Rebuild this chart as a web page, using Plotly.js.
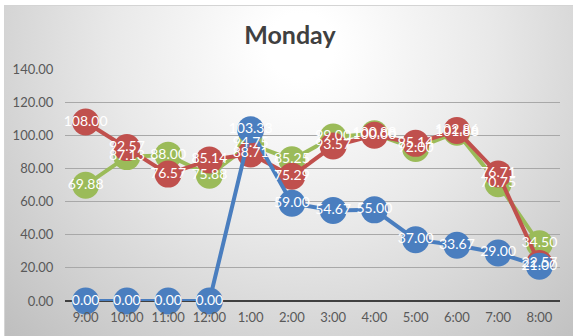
<!DOCTYPE html>
<html><head><meta charset="utf-8">
<script src="https://cdn.plot.ly/plotly-3.0.1.min.js"></script>
<style>
html,body{margin:0;padding:0;background:#fff;}
#bg{position:absolute;left:4px;top:5px;width:569px;height:331px;border-top:1px solid #d4d4d4;border-left:1px solid #d4d4d4;
background:radial-gradient(ellipse farthest-corner at 52% 12%, #ffffff 8%, #e9e9e9 45%, #bebebe 100%);}
#chart{position:absolute;left:0;top:0;width:573px;height:336px;}
</style></head>
<body>
<div id="bg"></div>
<div id="chart"></div>
<script>
const hours = ["9:00","10:00","11:00","12:00","1:00","2:00","3:00","4:00","5:00","6:00","7:00","8:00"];
const blueValues  = [0, 0, 0, 0, 103.33, 59.00, 54.67, 55.00, 37.00, 33.67, 29.00, 21.00];
const redValues   = [108.00, 92.57, 76.57, 85.14, 88.71, 75.29, 93.57, 100.00, 95.14, 102.86, 76.71, 22.57];
const greenValues = [69.88, 87.13, 88.00, 75.88, 94.75, 85.25, 99.00, 100.88, 92.00, 101.88, 70.75, 34.50];
const yTicks = [0, 20, 40, 60, 80, 100, 120, 140];

const series = [
  {name:"Green", y:greenValues, color:"#9bbb59"},
  {name:"Red", y:redValues, color:"#c0504d"},
  {name:"Blue", y:blueValues, color:"#4a7ebf"}
];
const traces = [];
series.forEach(s => traces.push({
  x: hours, y: s.y, type:"scatter", mode:"lines+markers", name:s.name,
  line:{color:s.color, width:4}, marker:{color:s.color, size:27},
  cliponaxis:false, hoverinfo:"skip"
}));
series.forEach(s => traces.push({
  x: hours, y: s.y, type:"scatter", mode:"text", name:s.name+" labels",
  text: s.y.map(v => v.toFixed(2)), textposition:"middle center",
  textfont:{color:"#ffffff", size:14, family:"Lato, 'Open Sans', sans-serif"},
  cliponaxis:false, hoverinfo:"skip"
}));

const layout = {
  width:573, height:336,
  margin:{l:65, r:13, t:69, b:35},
  paper_bgcolor:"rgba(0,0,0,0)", plot_bgcolor:"rgba(0,0,0,0)",
  showlegend:false,
  title:{text:"<b>Monday</b>", x:0.506, xanchor:"center", y:1-35/336, yanchor:"middle", yref:"container",
    font:{size:25, color:"#404040", family:"Lato, 'Open Sans', sans-serif"}},
  xaxis:{type:"category", range:[-0.5, 11.5], showgrid:false, zeroline:false, showline:false,
    ticks:"outside", ticklen:4, tickcolor:"rgba(0,0,0,0)",
    tickfont:{size:13, color:"#595959", family:"Lato, 'Open Sans', sans-serif"}},
  yaxis:{range:[0, 140], tickvals:yTicks, ticktext:yTicks.map(v=>v.toFixed(2)),
    showgrid:true, gridcolor:"#a8a8a8", gridwidth:1,
    zeroline:true, zerolinecolor:"#404040", zerolinewidth:2.5, showline:false,
    ticks:"outside", ticklen:8, tickcolor:"rgba(0,0,0,0)",
    tickfont:{size:13, color:"#595959", family:"Lato, 'Open Sans', sans-serif"}}
};
Plotly.newPlot("chart", traces, layout, {displayModeBar:false, staticPlot:true});
</script>
</body></html>
